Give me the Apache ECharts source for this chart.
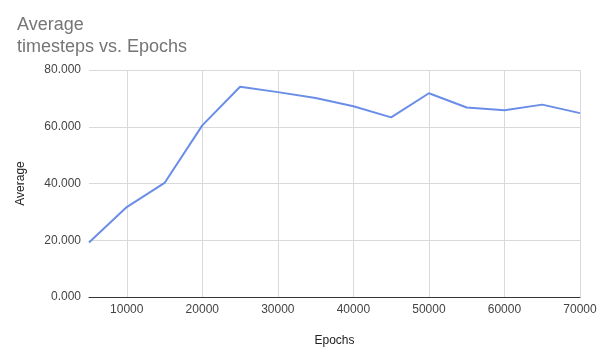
<!DOCTYPE html>
<html>
<head>
<meta charset="utf-8">
<script src="https://cdn.jsdelivr.net/npm/echarts@6/dist/echarts.min.js"></script>
<style>
  html, body { margin: 0; padding: 0; background: #ffffff; }
  #chart { width: 605px; height: 348px; }
</style>
</head>
<body>
<div id="chart"></div>
<script>
// Training progress: average timesteps per episode at each epoch checkpoint
const epochs = [5000, 10000, 15000, 20000, 25000, 30000, 35000, 40000, 45000, 50000, 55000, 60000, 65000, 70000];
const averageTimesteps = [19.2, 31.7, 40.2, 60.5, 74.1, 72.2, 70.1, 67.2, 63.3, 71.8, 66.8, 65.8, 67.8, 64.8];
const xTicks = [10000, 20000, 30000, 40000, 50000, 60000, 70000];
const yTicks = [0, 20, 40, 60, 80];

const font = 'Liberation Sans, Arial, sans-serif';
const chart = echarts.init(document.getElementById('chart'), null, { renderer: 'canvas' });

chart.setOption({
  animation: false,
  backgroundColor: '#ffffff',
  title: {
    text: 'Average\ntimesteps vs. Epochs',
    left: 12,
    top: 9,
    textStyle: {
      fontFamily: font,
      fontSize: 18,
      fontWeight: 'normal',
      color: '#757575',
      lineHeight: 22
    }
  },
  grid: { left: 89, right: 25, top: 70, bottom: 51, containLabel: false, outerBoundsMode: 'none' },
  xAxis: {
    type: 'value',
    min: epochs[0],
    max: epochs[epochs.length - 1],
    name: 'Epochs',
    nameLocation: 'middle',
    nameGap: 38,
    nameTextStyle: { fontFamily: font, fontSize: 12, color: '#222' },
    axisLine: { show: true, lineStyle: { color: '#333333', width: 1 } },
    axisTick: { show: false, customValues: xTicks },
    axisLabel: {
      customValues: xTicks,
      formatter: v => String(v),
      fontFamily: font,
      fontSize: 12,
      color: '#444444',
      margin: 7
    },
    splitLine: { show: true, lineStyle: { color: '#d9d9d9', width: 1 } }
  },
  yAxis: {
    type: 'value',
    min: yTicks[0],
    max: yTicks[yTicks.length - 1],
    interval: 20,
    name: 'Average',
    nameLocation: 'middle',
    nameGap: 62,
    nameTextStyle: { fontFamily: font, fontSize: 12, color: '#222' },
    axisLine: { show: false },
    axisTick: { show: false },
    axisLabel: {
      formatter: v => v.toFixed(3),
      fontFamily: font,
      fontSize: 12,
      color: '#444444',
      margin: 8
    },
    splitLine: { show: true, lineStyle: { color: '#d9d9d9', width: 1 } }
  },
  series: [{
    type: 'line',
    data: epochs.map((e, i) => [e, averageTimesteps[i]]),
    showSymbol: false,
    symbol: 'none',
    lineStyle: { color: '#6a8ee8', width: 2 },
    itemStyle: { color: '#6a8ee8' }
  }]
});
</script>
</body>
</html>
